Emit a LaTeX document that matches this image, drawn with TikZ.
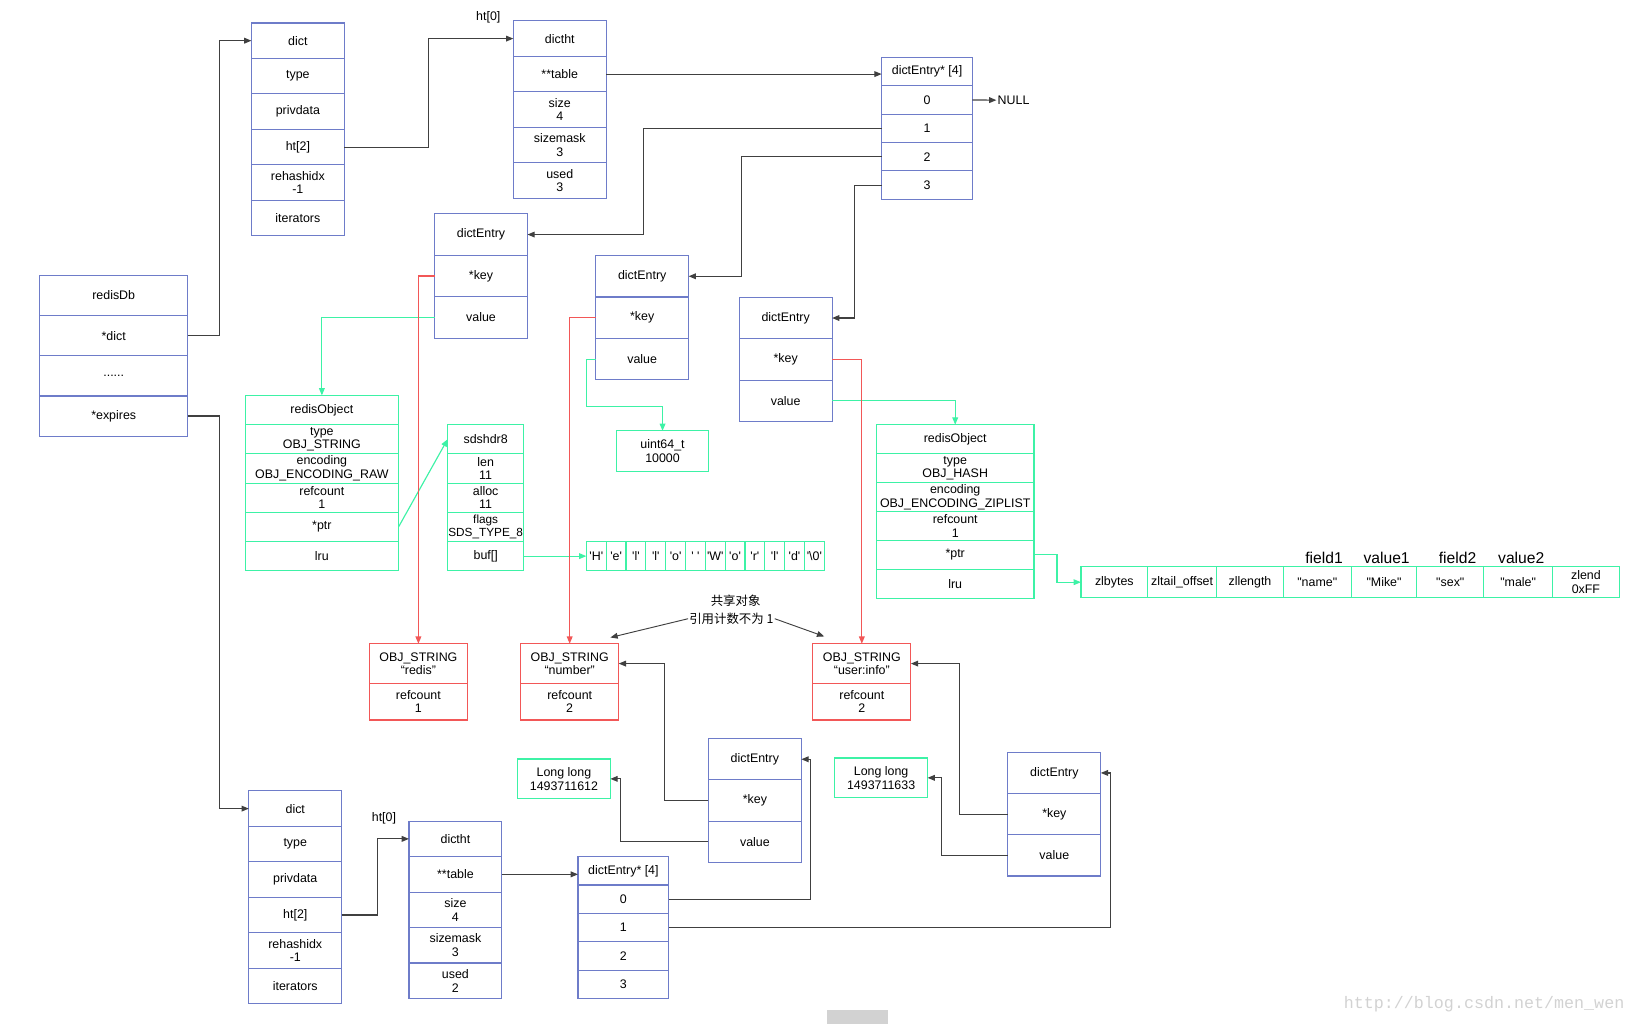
\documentclass[tikz,border=0pt]{standalone}
\usepackage{fontspec}
\setmainfont{Liberation Sans}[Ligatures=TeXOff]
\newfontfamily\cjk{Noto Sans CJK SC}
\newfontfamily\wmfont{Liberation Mono}
\usepackage{tikz}
\usetikzlibrary{arrows.meta,positioning,calc}
\definecolor{sblue}{HTML}{6E7CC9}
\definecolor{sgreen}{HTML}{3DF2A6}
\definecolor{sred}{HTML}{F25757}
\definecolor{linkgray}{HTML}{404040}
\tikzset{
  cell/.style={draw=sblue, line width=1.1pt, inner sep=0pt, outer sep=0pt, align=center,
    font=\fontsize{11.9}{13}\selectfont},
  gcell/.style={cell, draw=sgreen},
  rcell/.style={cell, draw=sred},
  wire/.style={draw=linkgray, line width=1.1pt, -{Triangle[length=7pt,width=5.5pt]}},
  gwire/.style={wire, draw=sgreen},
  rwire/.style={wire, draw=sred},
  lbl/.style={inner sep=1pt, font=\fontsize{11.9}{13}\selectfont},
}

\begin{document}
\begin{tikzpicture}[x=1pt,y=-1pt]
  \useasboundingbox (0,0) rectangle (1568,981);
  % redisDb
  \begin{scope}[every node/.style={cell, minimum width=142, minimum height=38.5}]
    \node (db) at (109,283.25) {redisDb};
    \node[below=0pt of db] (dbdict) {*dict};
    \node[below=0pt of dbdict] (dbdots) {......};
    \node[below=0pt of dbdots] (dbexp) {*expires};
  \end{scope}
  % dict (keys)
  \begin{scope}[every node/.style={cell, minimum width=89, minimum height=34}]
    \node (d1) at (285.5,39) {dict};
    \node[below=0pt of d1] (d1type) {type};
    \node[below=0pt of d1type] (d1priv) {privdata};
    \node[below=0pt of d1priv] (d1ht) {ht[2]};
    \node[below=0pt of d1ht] (d1rehash) {rehashidx\\-1};
    \node[below=0pt of d1rehash] (d1iter) {iterators};
    % dictht
    \node (ht1) at (536.5,37) {dictht};
    \node[below=0pt of ht1] (ht1tab) {**table};
    \node[below=0pt of ht1tab] (ht1size) {size\\4};
    \node[below=0pt of ht1size] (ht1mask) {sizemask\\3};
    \node[below=0pt of ht1mask] (ht1used) {used\\3};
  \end{scope}
  \node[lbl] (ht1lbl) at (468,17) {ht[0]};
  % table of entries
  \begin{scope}[every node/.style={cell, minimum width=87, minimum height=27.2}]
    \node (tab1) at (888.5,68.6) {dictEntry* [4]};
    \node[below=0pt of tab1] (tab1r0) {0};
    \node[below=0pt of tab1r0] (tab1r1) {1};
    \node[below=0pt of tab1r1] (tab1r2) {2};
    \node[below=0pt of tab1r2] (tab1r3) {3};
  \end{scope}
  \node[lbl,anchor=west] (null) at (955,96) {NULL};
  % entries
  \begin{scope}[every node/.style={cell, minimum width=89, minimum height=39.7}]
    \node (e1) at (461,224.8) {dictEntry};
    \node[below=0pt of e1] (e1key) {*key};
    \node[below=0pt of e1key] (e1val) {value};
    \node (e2) at (615.5,264.8) {dictEntry};
    \node[below=0pt of e2] (e2key) {*key};
    \node[below=0pt of e2key] (e2val) {value};
    \node (e3) at (753,304.8) {dictEntry};
    \node[below=0pt of e3] (e3key) {*key};
    \node[below=0pt of e3key] (e3val) {value};
  \end{scope}
  % string object and sds
  \begin{scope}[every node/.style={gcell, minimum width=147, minimum height=28}]
    \node (ro1) at (308.5,393) {redisObject};
    \node[below=0pt of ro1] (ro1type) {type\\OBJ\_STRING};
    \node[below=0pt of ro1type] (ro1enc) {encoding\\OBJ\_ENCODING\_RAW};
    \node[below=0pt of ro1enc] (ro1ref) {refcount\\1};
    \node[below=0pt of ro1ref] (ro1ptr) {*ptr};
    \node[below=0pt of ro1ptr] (ro1lru) {lru};
  \end{scope}
  \begin{scope}[every node/.style={gcell, minimum width=73, minimum height=28}]
    \node (sds) at (465.5,421) {sdshdr8};
    \node[below=0pt of sds] (sdslen) {len\\11};
    \node[below=0pt of sdslen] (sdsalloc) {alloc\\11};
    \node[below=0pt of sdsalloc, font=\fontsize{11.3}{13}\selectfont] (sdsflags) {flags\\SDS\_TYPE\_8};
    \node[below=0pt of sdsflags] (sdsbuf) {buf[]};
  \end{scope}
  \begin{scope}[every node/.style={gcell, minimum width=19, minimum height=28}]
    \node (c1) at (571.5,533) {'H'}; \node[right=0pt of c1] (c2) {'e'};
    \node[right=0pt of c2] (c3) {'l'}; \node[right=0pt of c3] (c4) {'l'};
    \node[right=0pt of c4] (c5) {'o'}; \node[right=0pt of c5] (c6) {' '};
    \node[right=0pt of c6] (c7) {'W'}; \node[right=0pt of c7] (c8) {'o'};
    \node[right=0pt of c8] (c9) {'r'}; \node[right=0pt of c9] (c10) {'l'};
    \node[right=0pt of c10] (c11) {'d'}; \node[right=0pt of c11] (c12) {'\textbackslash 0'};
  \end{scope}
  \node[gcell, minimum width=88, minimum height=39] (uint) at (635,432.5) {uint64\_t\\10000};
  % hash object and ziplist
  \begin{scope}[every node/.style={gcell, minimum width=151, minimum height=27.7}]
    \node (ro2) at (915.5,420.9) {redisObject};
    \node[below=0pt of ro2] (ro2type) {type\\OBJ\_HASH};
    \node[below=0pt of ro2type] (ro2enc) {encoding\\OBJ\_ENCODING\_ZIPLIST};
    \node[below=0pt of ro2enc] (ro2ref) {refcount\\1};
    \node[below=0pt of ro2ref] (ro2ptr) {*ptr};
    \node[below=0pt of ro2ptr] (ro2lru) {lru};
  \end{scope}
  \begin{scope}[every node/.style={gcell, minimum height=30}]
    \node[minimum width=64] (zl1) at (1068,558) {zlbytes};
    \node[minimum width=66, right=0pt of zl1] (zl2) {zltail\_offset};
    \node[minimum width=64, right=0pt of zl2] (zl3) {zllength};
    \node[minimum width=65, right=0pt of zl3] (zl4) {"name"};
    \node[minimum width=63, right=0pt of zl4] (zl5) {"Mike"};
    \node[minimum width=64, right=0pt of zl5] (zl6) {"sex"};
    \node[minimum width=66, right=0pt of zl6] (zl7) {"male"};
    \node[minimum width=64, right=0pt of zl7] (zl8) {zlend\\0xFF};
  \end{scope}
  \node[lbl,font=\fontsize{15}{17}\selectfont] (f1lbl) at (1269,535) {field1};
  \node[lbl,font=\fontsize{15}{17}\selectfont] (v1lbl) at (1329,535) {value1};
  \node[lbl,font=\fontsize{15}{17}\selectfont] (f2lbl) at (1397,535) {field2};
  \node[lbl,font=\fontsize{15}{17}\selectfont] (v2lbl) at (1458,535) {value2};
  % shared key strings
  \begin{scope}[every node/.style={rcell, minimum width=94, minimum height=38}]
    \node (rs1) at (401,636) {OBJ\_STRING\\“redis”};
    \node[below=0pt of rs1, minimum height=35] (rs1ref) {refcount\\1};
    \node (rs2) at (546,636) {OBJ\_STRING\\“number”};
    \node[below=0pt of rs2, minimum height=35] (rs2ref) {refcount\\2};
    \node (rs3) at (826,636) {OBJ\_STRING\\“user:info”};
    \node[below=0pt of rs3, minimum height=35] (rs3ref) {refcount\\2};
  \end{scope}
  \node[lbl] (sh1) at (705,576) {\cjk 共享对象};
  \node[lbl] (sh2) at (701,593) {\cjk 引用计数不为 1};
  % expires dict
  \begin{scope}[every node/.style={cell, minimum width=89, minimum height=34}]
    \node (d2) at (283,775) {dict};
    \node[below=0pt of d2] (d2type) {type};
    \node[below=0pt of d2type] (d2priv) {privdata};
    \node[below=0pt of d2priv] (d2ht) {ht[2]};
    \node[below=0pt of d2ht] (d2rehash) {rehashidx\\-1};
    \node[below=0pt of d2rehash] (d2iter) {iterators};
    \node (ht2) at (436.5,804) {dictht};
    \node[below=0pt of ht2] (ht2tab) {**table};
    \node[below=0pt of ht2tab] (ht2size) {size\\4};
    \node[below=0pt of ht2size] (ht2mask) {sizemask\\3};
    \node[below=0pt of ht2mask] (ht2used) {used\\2};
  \end{scope}
  \node[lbl] (ht2lbl) at (368,784) {ht[0]};
  \begin{scope}[every node/.style={cell, minimum width=87, minimum height=27.2}]
    \node (tab2) at (597.5,834.6) {dictEntry* [4]};
    \node[below=0pt of tab2] (tab2r0) {0};
    \node[below=0pt of tab2r0] (tab2r1) {1};
    \node[below=0pt of tab2r1] (tab2r2) {2};
    \node[below=0pt of tab2r2] (tab2r3) {3};
  \end{scope}
  \begin{scope}[every node/.style={cell, minimum width=89, minimum height=39.5}]
    \node (e4) at (723.5,727.7) {dictEntry};
    \node[below=0pt of e4] (e4key) {*key};
    \node[below=0pt of e4key] (e4val) {value};
    \node (e5) at (1010.5,740.8) {dictEntry};
    \node[below=0pt of e5] (e5key) {*key};
    \node[below=0pt of e5key] (e5val) {value};
  \end{scope}
  \node[gcell, minimum width=89, minimum height=38] (ll1) at (540.5,746.5) {Long long\\1493711612};
  \node[gcell, minimum width=89, minimum height=38] (ll2) at (844.5,745.5) {Long long\\1493711633};
  % pointers
  \draw[wire] (dbdict.east) -- ++(30,0) |- (d1.west);
  \draw[wire] (dbexp.east) -- ++(30,0) |- (d2.west);
  \draw[wire] (d1ht.east) -- ++(81,0) |- (ht1.west);
  \draw[wire] (ht1tab.east) -- (ht1tab.east -| tab1.west);
  \draw[wire] (tab1r0.east) -- (null.west);
  \draw[wire] (tab1r1.west) -- ++(-228,0) |- (e1.east);
  \draw[wire] (tab1r2.west) -- ++(-134,0) |- (e2.east);
  \draw[wire] (tab1r3.west) -- ++(-26,0) |- (e3.east);
  \draw[gwire] (e1val.west) -| (ro1.north);
  \draw[gwire] (ro1ptr.east) -- (sds.west);
  \draw[gwire] (sdsbuf.east) -- (c1.west);
  \draw[gwire] (e2val.west) -- ++(-9,0) -- ++(0,45) -| (uint.north);
  \draw[gwire] (e3val.east) -| (ro2.north);
  \draw[gwire] (ro2ptr.east) -- ++(22,0) |- (zl1.west);
  \draw[rwire] (e1key.west) -| (rs1.north);
  \draw[rwire] (e2key.west) -| (rs2.north);
  \draw[rwire] (e3key.east) -| (rs3.north);
  \draw[wire,line width=0.9pt] (sh2.west) -- ($(rs2.north east)+(-8,-6)$);
  \draw[wire,line width=0.9pt] (sh2.east) -- ($(rs3.north west)+(11,-7)$);
  \draw[wire] (d2ht.east) -- ++(34,0) |- (ht2.west);
  \draw[wire] (ht2tab.east) -- (ht2tab.east -| tab2.west);
  \draw[wire] (tab2r0.east) -- ++(136,0) |- (e4.east);
  \draw[wire] (tab2r1.east) -- ++(423,0) |- (e5.east);
  \draw[wire] (e4key.west) -- ++(-42,0) |- (rs2.east);
  \draw[wire] (e4val.west) -- ++(-84,0) |- (ll1.east);
  \draw[wire] (e5key.west) -- ++(-46,0) |- (rs3.east);
  \draw[wire] (e5val.west) -- ++(-64,0) |- (ll2.east);
  % watermark
  \node[anchor=east, inner sep=0pt, text=gray!35, font=\wmfont\fontsize{16}{18}\selectfont] (wm) at (1557,962) {http://blog.csdn.net/men\_wen};
  \fill[gray!35] (793,968) rectangle (851,981);
\end{tikzpicture}
\end{document}
